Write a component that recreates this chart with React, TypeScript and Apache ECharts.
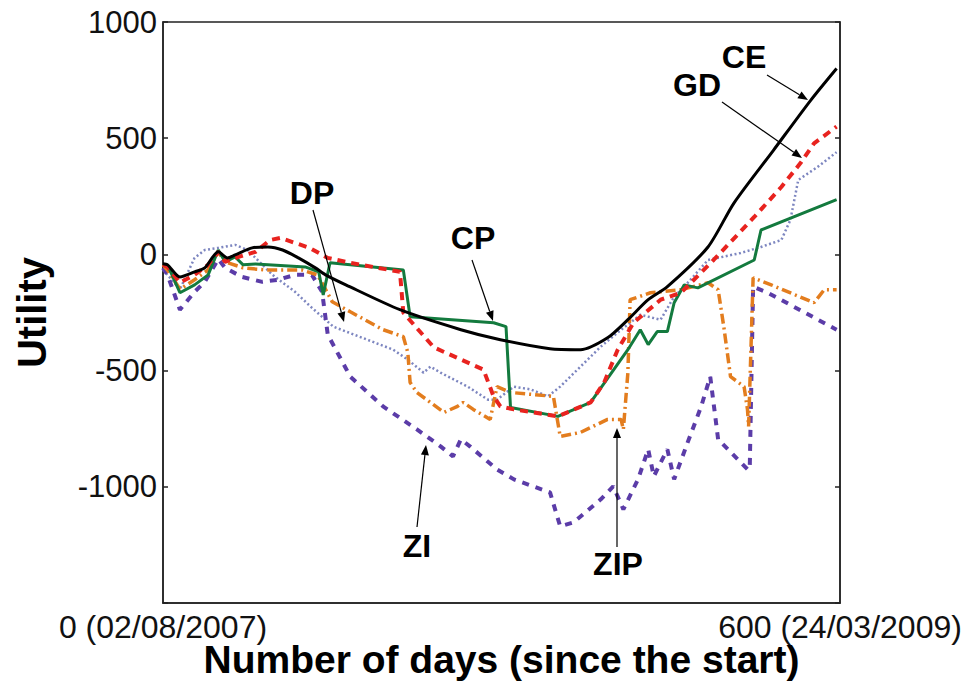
import React, { useEffect, useRef } from "react";
import * as echarts from "echarts";

// ---- data (day since start, utility) ----
const ceDays = [0, 4, 15, 28, 37, 49, 57, 64, 79, 93, 106, 120, 135, 144, 162, 210, 264, 299, 343, 370, 394, 412, 430, 447, 483, 506, 541, 574, 597];
const ceVals = [-40, -45, -97, -75, -58, 11, -15, -2, 28, 32, 19, -15, -58, -88, -131, -238, -324, -367, -406, -410, -359, -281, -195, -139, 32, 221, 448, 663, 800];

const gdDays = [0, 4, 15, 28, 40, 49, 55, 67, 82, 95, 104, 130, 146, 166, 210, 213, 240, 284, 293, 299, 311, 350, 379, 391, 403, 417, 441, 459, 488, 524, 548, 565, 577, 597];
const gdVals = [-45, -54, -122, -88, -45, 11, -32, -11, 11, 62, 71, 28, -15, -36, -75, -251, -400, -496, -611, -654, -667, -697, -637, -551, -410, -294, -195, -165, -24, 161, 290, 393, 478, 550];

const cpDays = [0, 4, 15, 28, 40, 49, 55, 64, 71, 82, 126, 138, 142, 148, 213, 219, 293, 304, 308, 350, 379, 412, 423, 430, 438, 447, 453, 462, 474, 524, 530, 597];
const cpVals = [-45, -45, -165, -131, -88, 19, -32, -11, -45, -41, -54, -75, -174, -36, -67, -268, -294, -311, -659, -697, -637, -410, -324, -388, -332, -332, -208, -131, -144, -24, 105, 236];

const dpDays = [0, 4, 15, 28, 37, 49, 64, 75, 97, 117, 132, 151, 181, 204, 217, 231, 237, 246, 270, 288, 296, 311, 326, 341, 352, 370, 388, 406, 423, 441, 453, 462, 483, 512, 530, 548, 556, 563, 580, 597];
const dpVals = [-67, -88, -150, -15, 19, 28, 41, 19, -88, -161, -230, -311, -367, -410, -453, -509, -483, -509, -569, -625, -625, -569, -581, -611, -569, -483, -397, -324, -260, -281, -182, -139, -24, 6, 32, 62, 148, 320, 376, 440];

const zipDays = [0, 4, 15, 28, 40, 49, 55, 71, 91, 123, 137, 150, 166, 195, 213, 217, 219, 225, 249, 261, 266, 275, 290, 296, 308, 346, 352, 370, 394, 406, 408, 412, 414, 432, 459, 483, 492, 497, 503, 515, 518, 519, 523, 539, 577, 586, 597];
const zipVals = [-45, -67, -150, -109, -67, 11, -32, -58, -67, -67, -88, -204, -247, -324, -354, -423, -551, -594, -680, -654, -637, -667, -710, -569, -594, -611, -783, -766, -710, -710, -753, -509, -195, -165, -152, -122, -152, -311, -526, -569, -667, -740, -101, -131, -208, -152, -152];

const ziDays = [0, 4, 15, 28, 37, 49, 55, 70, 88, 102, 117, 132, 141, 146, 166, 195, 225, 246, 257, 264, 272, 296, 311, 343, 352, 364, 388, 399, 408, 421, 430, 435, 447, 453, 465, 477, 485, 492, 518, 520, 523, 536, 597];
const ziVals = [-58, -88, -238, -161, -118, -20, -58, -97, -118, -109, -88, -88, -161, -345, -526, -654, -753, -826, -869, -796, -826, -925, -968, -1024, -1170, -1153, -1054, -998, -1097, -968, -839, -955, -839, -968, -809, -654, -526, -796, -925, -925, -139, -165, -324];

const yTicks = [-1500, -1000, -500, 0, 500, 1000];
const xTickLabels: Record<number, string> = { 0: "0 (02/08/2007)", 600: "600 (24/03/2009)" };

const labels = [
  { text: "CE", x: 744, y: 57, ax: [767, 75, 808, 100] },
  { text: "GD", x: 697, y: 85, ax: [722, 102, 802, 158] },
  { text: "DP", x: 312, y: 193, ax: [313, 210, 344, 322] },
  { text: "CP", x: 473, y: 238, ax: [472, 260, 493, 321] },
  { text: "ZI", x: 417, y: 546, ax: [417, 527, 426, 445] },
  { text: "ZIP", x: 618, y: 564, ax: [617, 547, 617, 428] },
];

const zip = (a: number[], b: number[]) => a.map((d, i) => [d, b[i]]);

const FONT = "'Liberation Sans', Arial, Helvetica, sans-serif";

function arrow(x1: number, y1: number, x2: number, y2: number) {
  const ang = Math.atan2(y2 - y1, x2 - x1);
  const L = 10, W = 4;
  const bx = x2 - L * Math.cos(ang), by = y2 - L * Math.sin(ang);
  const px = -Math.sin(ang) * W, py = Math.cos(ang) * W;
  return [
    { type: "line", shape: { x1, y1, x2: bx, y2: by }, style: { stroke: "#000", lineWidth: 1.2 }, z: 100 },
    {
      type: "polygon",
      shape: { points: [[x2, y2], [bx + px, by + py], [bx - px, by - py]] },
      style: { fill: "#000" },
      z: 100,
    },
  ];
}

export default function App() {
  const ref = useRef<HTMLDivElement>(null);
  useEffect(() => {
    if (!ref.current) return;
    const chart = echarts.init(ref.current, null, { renderer: "svg" });
    const graphic: any[] = [];
    labels.forEach((l) => {
      graphic.push({
        type: "text",
        x: l.x,
        y: l.y,
        z: 100,
        style: { text: l.text, font: `bold 32px ${FONT}`, fill: "#000", align: "center", verticalAlign: "middle" },
      });
      const [a, b, c, d] = l.ax;
      graphic.push(...arrow(a, b, c, d));
    });
    const mk = (name: string, days: number[], vals: number[], color: string, width: number, type: any, smooth: any = false) => ({
      name,
      type: "line",
      data: zip(days, vals),
      showSymbol: false,
      symbol: "none",
      smooth,
      lineStyle: { color, width, type, cap: "butt" },
      z: 3,
    });
    chart.setOption({
      animation: false,
      backgroundColor: "#fff",
      grid: {
        left: 163,
        right: 133,
        top: 22,
        bottom: 78,
        show: true,
        borderColor: "#222",
        borderWidth: 1.5,
        containLabel: false,
        outerBoundsMode: "none",
      },
      xAxis: {
        type: "value",
        min: 0,
        max: 600,
        interval: 600,
        name: "Number of days (since the start)",
        nameLocation: "middle",
        nameGap: 37,
        nameMoveOverlap: false,
        nameTextStyle: { fontFamily: FONT, fontWeight: "bold", fontSize: 39, lineHeight: 39, color: "#000" },
        axisLine: { show: true, onZero: false, lineStyle: { color: "#222", width: 1.5 } },
        axisTick: { show: false },
        splitLine: { show: false },
        axisLabel: {
          fontFamily: FONT,
          fontSize: 32,
          lineHeight: 32,
          color: "#111",
          margin: 8,
          formatter: (v: number) => xTickLabels[v] ?? "",
        },
      },
      yAxis: [
        {
          type: "value",
          min: yTicks[0],
          max: yTicks[yTicks.length - 1],
          interval: 500,
          name: "Utility",
          nameLocation: "middle",
          nameGap: 111,
          nameMoveOverlap: false,
          nameRotate: 90,
          nameTextStyle: { fontFamily: FONT, fontWeight: "bold", fontSize: 40, color: "#000" },
          axisLine: { show: true, onZero: false, lineStyle: { color: "#222", width: 1.5 } },
          axisTick: { show: true, inside: true, length: 5, lineStyle: { color: "#222", width: 1.5 } },
          splitLine: { show: false },
          axisLabel: {
            fontFamily: FONT,
            fontSize: 31,
            color: "#111",
            margin: 6,
            formatter: (v: number) => (v === yTicks[0] ? "" : String(v)),
          },
        },
        {
          type: "value",
          position: "right",
          min: yTicks[0],
          max: yTicks[yTicks.length - 1],
          interval: 500,
          axisLine: { show: true, onZero: false, lineStyle: { color: "#222", width: 1.5 } },
          axisTick: { show: true, inside: true, length: 5, lineStyle: { color: "#222", width: 1.5 } },
          splitLine: { show: false },
          axisLabel: { show: false },
        },
      ],
      series: [
        mk("DP", dpDays, dpVals, "#7d86c0", 2.5, [2, 2.5]),
        mk("ZI", ziDays, ziVals, "#5b3ca8", 4, [7, 7]),
        mk("ZIP", zipDays, zipVals, "#e37d1e", 3.5, [10, 4, 2, 4]),
        mk("CP", cpDays, cpVals, "#137a3e", 3, "solid"),
        mk("GD", gdDays, gdVals, "#e8231f", 4, [8, 6]),
        mk("CE", ceDays, ceVals, "#000000", 3, "solid", 0.25),
      ],
      graphic,
    });
    return () => chart.dispose();
  }, []);
  return <div ref={ref} style={{ position: "fixed", left: 0, top: 0, width: 973, height: 681, background: "#fff" }} />;
}
